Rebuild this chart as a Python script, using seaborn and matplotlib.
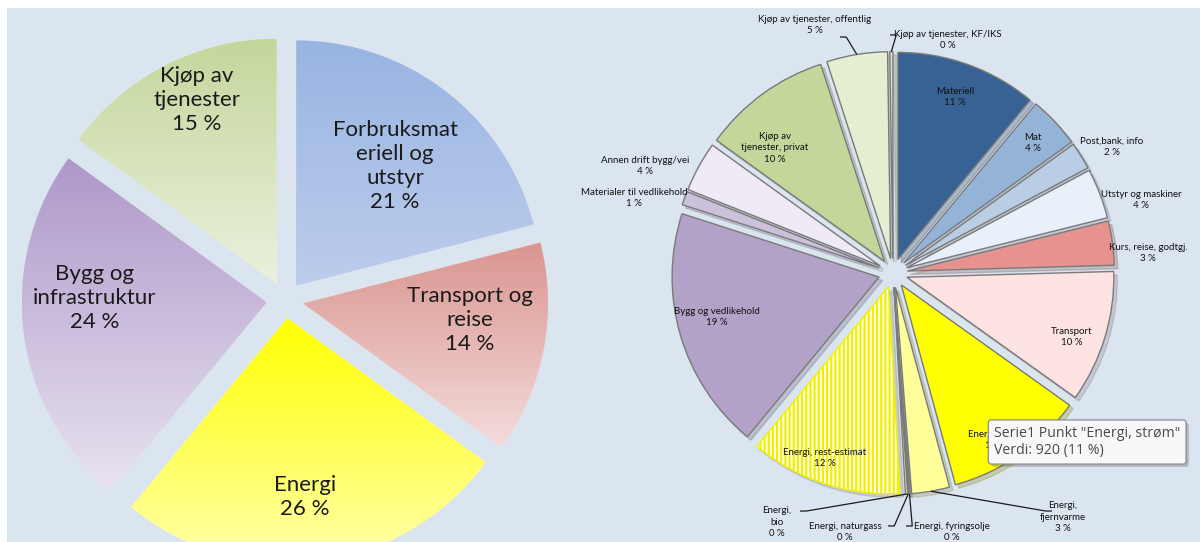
import numpy as np
import matplotlib
matplotlib.use("Agg")
import matplotlib.pyplot as plt
import seaborn as sns
from matplotlib.patches import Rectangle
import matplotlib.colors as mcolors
import matplotlib.patheffects as pe

# ---------------- data ----------------
left_names = ["Forbruksmat\neriell og\nutstyr", "Transport og\nreise", "Energi",
              "Bygg og\ninfrastruktur", "Kjøp av\ntjenester"]
left_values = [21, 14, 26, 24, 15]

right_names = ["Materiell", "Mat", "Post,bank, info", "Utstyr og maskiner",
               "Kurs, reise, godtgj.", "Transport", "Energi, strøm",
               "Energi,\nfjernvarme", "Energi, fyringsolje", "Energi, naturgass",
               "Energi,\nbio", "Energi, rest-estimat", "Bygg og vedlikehold",
               "Materialer til vedlikehold", "Annen drift bygg/vei",
               "Kjøp av\ntjenester, privat", "Kjøp av tjenester, offentlig",
               "Kjøp av tjenester, KF/IKS"]
right_values = [930, 340, 180, 330, 290, 870, 920, 250, 10, 5, 15, 1000,
                1600, 90, 330, 850, 400, 20]

tooltip_series = "Serie1"
tooltip_point = "Energi, strøm"

# ---------------- style ----------------
sns.set_theme(style="white")
plt.rcParams["font.family"] = ["Lato", "DejaVu Sans"]
plt.rcParams["hatch.linewidth"] = 1.6

BG = "#dbe5f0"

left_grad = [("#99b4e2", "#bccdec"), ("#da9590", "#f3dcdb"), ("#ffff00", "#ffffac"),
             ("#ad98c9", "#e9e3f0"), ("#c4d69b", "#ebf1de")]
left_lab_pos = [(0.449, 0.547), (0.755, -0.082), (0.082, -0.804),
                (-0.776, 0.008), (-0.359, 0.816)]

right_colors = ["#386294", "#95b3d7", "#b9cde5", "#e9f0f9", "#e6938f", "#fde3e1",
                "#ffff00", "#ffff99", "#ffffc0", "#d9d9d9", "#e3e3a8", "#fffff0",
                "#b3a2c7", "#ccc1da", "#efeaf5", "#c4d79b", "#e5eed0", "#dfe8c6"]
# label placement in pie radius units
right_lab_pos = [(0.30, 0.85), (0.676, 0.628), (1.058, 0.609), (1.198, 0.353),
                 (1.232, 0.097), (0.865, -0.309), (0.498, -0.807), (0.821, -1.179),
                 (0.285, -1.25), (-0.232, -1.25), (-0.560, -1.203), (-0.329, -0.894),
                 (-0.850, -0.213), (-1.251, 0.362), (-1.198, 0.517), (-0.570, 0.604),
                 (-0.377, 1.198), (0.266, 1.126)]
leaders = {16: (-0.256, 1.140), 17: (-0.014, 1.150), 7: (0.768, -1.150),
           8: (0.063, -1.222), 9: (-0.024, -1.222), 10: (-0.449, -1.150)}

W, H = 1200, 542
fig = plt.figure(figsize=(W / 100, H / 100), dpi=100)
fig.patch.set_facecolor("white")
fig.patches.append(Rectangle((7 / W, 0), 1, 534 / H, transform=fig.transFigure,
                             facecolor=BG, edgecolor="none", zorder=-10))


def make_ax(cx, cy, rpx, half=300):
    ax = fig.add_axes([(cx - half) / W, (H - cy - half) / H, 2 * half / W, 2 * half / H])
    L = half / rpx
    ax.set_facecolor("none")
    ax.axis("off")
    return ax, L


# ---------------- left pie ----------------
axl, Ll = make_ax(285, 300, 245)
ex_l = 0.075
wedges, _ = axl.pie(left_values, startangle=90, counterclock=False,
                    explode=[ex_l] * len(left_values), radius=1.0,
                    wedgeprops=dict(linewidth=0, edgecolor="none"))
for w, (ctop, cbot) in zip(wedges, left_grad):
    th = np.radians(np.linspace(w.theta1, w.theta2, 80))
    cx, cy = w.center
    ys = np.concatenate([[cy], cy + w.r * np.sin(th)])
    xs = np.concatenate([[cx], cx + w.r * np.cos(th)])
    c1 = np.array(mcolors.to_rgb(ctop))
    c2 = np.array(mcolors.to_rgb(cbot))
    t = np.linspace(0, 1, 256)[:, None]
    img = (c1 * (1 - t) + c2 * t)[:, None, :]
    w.set_facecolor(cbot)
    im = axl.imshow(img, extent=[xs.min(), xs.max(), ys.min(), ys.max()],
                    origin="upper", aspect="auto", zorder=2, interpolation="bilinear")
    im.set_clip_path(w)
total_l = sum(left_values)
for name, v, (x, y) in zip(left_names, left_values, left_lab_pos):
    pct = round(v / total_l * 100)
    axl.text(x, y, f"{name}\n{pct} %", ha="center", va="center", fontsize=16,
             color="#1a1a1a", linespacing=1.25, zorder=5)
axl.set_xlim(-Ll, Ll)
axl.set_ylim(-Ll, Ll)
axl.set_aspect("equal")

# ---------------- right pie ----------------
axr, Lr = make_ax(893, 273, 207)
ex_r = 0.07
wedges_r, _ = axr.pie(right_values, startangle=90, counterclock=False,
                      explode=[ex_r] * len(right_values), radius=1.0,
                      colors=right_colors,
                      shadow={"ox": 0.012, "oy": -0.012, "shade": 0.5, "alpha": 0.25},
                      wedgeprops=dict(linewidth=1.0, edgecolor="#7a7a7a"))
rest = right_names.index("Energi, rest-estimat")
wedges_r[rest].set_hatch("||||")
wedges_r[rest].set_edgecolor("#f0f000")
total_r = sum(right_values)
for i, (name, v, (x, y)) in enumerate(zip(right_names, right_values, right_lab_pos)):
    pct = round(v / total_r * 100)
    axr.text(x, y, f"{name}\n{pct} %", ha="center", va="center", fontsize=7,
             color="#111111", linespacing=1.35, zorder=6)
    if i in leaders:
        w = wedges_r[i]
        mid = np.radians((w.theta1 + w.theta2) / 2)
        sx = w.center[0] + w.r * np.cos(mid)
        sy = w.center[1] + w.r * np.sin(mid)
        ax_, ay_ = leaders[i]
        ex = ax_ + (0.03 if sx > ax_ else -0.03)
        axr.plot([sx, ex, ax_], [sy, ay_, ay_], color="#1a1a1a", lw=0.9,
                 zorder=5, solid_capstyle="butt")
axr.set_xlim(-Lr, Lr)
axr.set_ylim(-Lr, Lr)
axr.set_aspect("equal")

# ---------------- tooltip ----------------
iv = right_names.index(tooltip_point)
tt = fig.text(994 / W, (H - 442) / H,
              f'{tooltip_series} Punkt "{tooltip_point}"\nVerdi: {right_values[iv]:d} '
              f'({round(right_values[iv] / total_r * 100)} %)',
              ha="left", va="center", fontsize=10.2, color="#4a4a4a",
              family=["Open Sans", "DejaVu Sans"], linespacing=1.25, zorder=20,
              bbox=dict(boxstyle="round,pad=0.4,rounding_size=0.2", facecolor="#f8f8fa",
                        edgecolor="#8c8c8c", linewidth=0.9))
tt.get_bbox_patch().set_path_effects([pe.SimplePatchShadow(offset=(2, -2), alpha=0.3),
                                      pe.Normal()])

fig.savefig("out.png", dpi=100, facecolor="white")
